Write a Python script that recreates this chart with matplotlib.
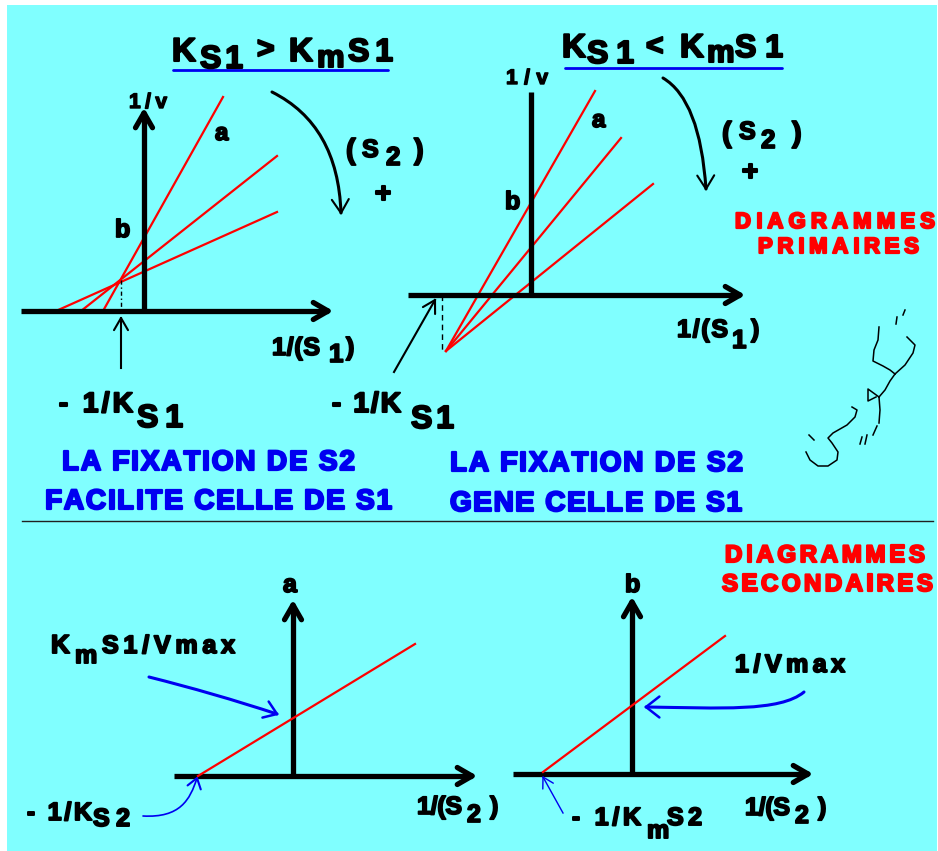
import numpy as np
import matplotlib
matplotlib.use('Agg')
import matplotlib.pyplot as plt
import matplotlib.patheffects as pe
from matplotlib.path import Path
from matplotlib.patches import PathPatch, Rectangle
from matplotlib.font_manager import FontProperties

CYAN = '#80ffff'
RED = '#ff0000'
BLUE = '#0000f0'
FONT = 'Liberation Sans'

# --- primary diagrams (pixel coords, y pointing down) ---
# Ks1 > KmS1 : the family crosses above the 1/(S1) axis
tl_axis_x, tl_axis_y = 144, 311
tl_foot_x = [103, 81, 56]        # where each line leaves the x axis
tl_top_x = [223, 277, 277]
tl_top_y = [97, 156, 212]
tl_cross = (121, 280)

# Ks1 < KmS1 : the family crosses below the 1/(S1) axis
tr_axis_x, tr_axis_y = 531, 295
tr_cross = (446, 351)
tr_top_x = [595, 621, 653]
tr_top_y = [91, 138, 184]

# --- secondary diagrams ---
sa_axis_x, sa_axis_y = 293, 776
sa_line_x = [198, 415]
sa_line_y = [776, 644]
sb_axis_x, sb_axis_y = 632, 774
sb_line_x = [543, 725]
sb_line_y = [772, 636]

# handwritten scribble, one list of points per stroke
scribble = [
    [(896, 324), (897, 317)],
    [(903, 315), (905, 310)],
    [(879, 327), (878, 340), (874, 350), (873, 361), (883, 366), (890, 370), (895, 374)],
    [(907, 337), (915, 345), (913, 353), (905, 365), (895, 374)],
    [(895, 374), (890, 381), (885, 390), (879, 397)],
    [(879, 397), (868, 389), (868, 401), (876, 397)],
    [(879, 397), (880, 410), (879, 423)],
    [(877, 426), (873, 435)],
    [(862, 437), (860, 444)],
    [(867, 435), (865, 444)],
    [(852, 407), (857, 410), (855, 417), (847, 425), (833, 433), (828, 438),
     (832, 443), (838, 452), (837, 460), (828, 466), (818, 466), (810, 460), (806, 452)],
    [(809, 435), (814, 440)],
]

fig = plt.figure(figsize=(9.38, 8.51), dpi=100)
ax = fig.add_axes([0, 0, 1, 1])
ax.set_xlim(0, 938)
ax.set_ylim(851, 0)
ax.axis('off')
ax.add_patch(Rectangle((7, 5), 930, 846, facecolor=CYAN, edgecolor='none', zorder=0))

renderer = fig.canvas.get_renderer()
PX = 0.72  # points per pixel at 100 dpi


def put(x, y, s, size, color='black', ha='left', heavy=1.0):
    ax.text(x, y, s, fontsize=size * PX, color=color, family=FONT,
            weight='bold', ha=ha, va='baseline',
            path_effects=[pe.withStroke(linewidth=heavy, foreground=color)])


def spread(x0, x1, y, s, size, color='black', heavy=1.0):
    # letters spaced out so the word spans x0..x1
    fp = FontProperties(family=FONT, weight='bold', size=size * PX)
    w = []
    for c in s:
        if c == ' ':
            w.append(0.28 * size)
        else:
            w.append(renderer.get_text_width_height_descent(c, fp, ismath=False)[0])
    gap = (x1 - x0 - sum(w)) / max(len(s) - 1, 1)
    x = x0
    for c, cw in zip(s, w):
        if c != ' ':
            put(x, y, c, size, color, heavy=heavy)
        x += cw + gap


def head(tx, ty, dx, dy, size, lw, color='black', ang=30):
    a = np.arctan2(dy, dx)
    for sgn in (1, -1):
        b = a + np.pi + sgn * np.radians(ang)
        ax.plot([tx, tx + size * np.cos(b)], [ty, ty + size * np.sin(b)],
                color=color, lw=lw, solid_capstyle='round', zorder=4)


def curve(pts, lw, color='black'):
    if len(pts) == 4:
        codes = [Path.MOVETO] + [Path.CURVE4] * 3
    else:
        codes = [Path.MOVETO] + [Path.CURVE3] * 2
    ax.add_patch(PathPatch(Path(pts, codes), fill=False, edgecolor=color, lw=lw,
                           capstyle='round', zorder=4))


def axis_line(x0, y0, x1, y1, arrow=True):
    ax.plot([x0, x1], [y0, y1], color='black', lw=3.8, solid_capstyle='butt', zorder=3)
    if arrow:
        head(x1, y1, x1 - x0, y1 - y0, 17, 3.8, ang=30)


# ---------- top left: Ks1 > KmS1 ----------
axis_line(21, tl_axis_y, 328, tl_axis_y)
axis_line(tl_axis_x, tl_axis_y, tl_axis_x, 113)
for fx, tx, ty in zip(tl_foot_x, tl_top_x, tl_top_y):
    ax.plot([fx, tx], [tl_axis_y, ty], color=RED, lw=1.6, zorder=2)
ax.plot([tl_cross[0]] * 2, [tl_cross[1], tl_axis_y], color='black', lw=1,
        ls=(0, (3, 2, 1, 2)), zorder=2)
ax.plot([121, 121], [368, 318], color='black', lw=1.5, zorder=4)
head(121, 318, 0, -1, 14, 1.5)

put(172, 61, 'K', 33, heavy=1.5)
spread(200, 243, 68, 'S1', 32, heavy=1.5)
put(257, 58, '>', 30, heavy=1.5)
put(289, 61, 'K', 33, heavy=1.5)
put(317, 67, 'm', 31, heavy=1.5)
spread(348, 393, 61, 'S1', 32, heavy=1.5)
ax.plot([173, 388], [70, 70], color=BLUE, lw=2, solid_capstyle='round')

spread(129, 167, 108, '1/v', 21)
put(215, 140, 'a', 24, heavy=1.3)
put(115, 237, 'b', 25, heavy=1.3)
curve([(272, 92), (338, 125), (341, 213)], 2.2)
head(341, 213, 0.05, 1, 16, 1.5, ang=32)
put(346, 159, '(', 29, heavy=1.3)
put(362, 157, 'S', 25, heavy=1.3)
put(386, 165, '2', 26, heavy=1.3)
put(414, 159, ')', 29, heavy=1.3)
put(383, 202, '+', 28, ha='center', heavy=1.5)
spread(272, 320, 355, '1/(S', 25, heavy=1.3)
put(329, 362, '1', 26, heavy=1.3)
put(346, 355, ')', 25, heavy=1.3)
spread(59, 133, 412, '- 1/K', 28, heavy=1.5)
spread(137, 183, 427, 'S1', 32, heavy=1.5)

# ---------- top right: Ks1 < KmS1 ----------
axis_line(408, tr_axis_y, 740, tr_axis_y)
axis_line(tr_axis_x, tr_axis_y, tr_axis_x, 92, arrow=False)
for tx, ty in zip(tr_top_x, tr_top_y):
    ax.plot([tr_cross[0], tx], [tr_cross[1], ty], color=RED, lw=1.6, zorder=2)
ax.plot([442, 442], [tr_axis_y, tr_cross[1]], color='black', lw=1,
        ls=(0, (4, 3)), zorder=2)
ax.plot([394, 435], [372, 300], color='black', lw=1.5, zorder=4)
head(435, 300, 41, -72, 14, 1.5)

put(562, 57, 'K', 33, heavy=1.5)
spread(587, 634, 63, 'S1', 32, heavy=1.5)
put(646, 55, '<', 30, heavy=1.5)
put(680, 57, 'K', 33, heavy=1.5)
put(707, 62, 'm', 31, heavy=1.5)
spread(735, 783, 57, 'S1', 32, heavy=1.5)
ax.plot([565, 782], [68, 68], color=BLUE, lw=2, solid_capstyle='round')

spread(506, 548, 84, '1/v', 21)
put(592, 127, 'a', 24, heavy=1.3)
put(505, 209, 'b', 25, heavy=1.3)
curve([(663, 78), (700, 100), (706, 189)], 2.2)
head(706, 189, 0.02, 1, 16, 1.5, ang=32)
put(722, 142, '(', 29, heavy=1.3)
put(739, 139, 'S', 25, heavy=1.3)
put(761, 148, '2', 26, heavy=1.3)
put(792, 142, ')', 29, heavy=1.3)
put(750, 180, '+', 28, ha='center', heavy=1.5)
spread(677, 728, 337, '1/(S', 25, heavy=1.3)
put(732, 348, '1', 26, heavy=1.3)
put(751, 337, ')', 25, heavy=1.3)
spread(332, 401, 412, '- 1/K', 28, heavy=1.5)
spread(411, 454, 428, 'S1', 32, heavy=1.5)

spread(735, 935, 228, 'DIAGRAMMES', 22, RED, heavy=1.6)
spread(758, 919, 253, 'PRIMAIRES', 22, RED, heavy=1.6)

for stroke in scribble:
    xs, ys = zip(*stroke)
    ax.plot(xs, ys, color='black', lw=1.1, zorder=2)

# captions
spread(62, 355, 470, 'LA FIXATION DE S2', 28, BLUE, heavy=1.6)
spread(45, 392, 509, 'FACILITE CELLE DE S1', 28, BLUE, heavy=1.6)
spread(450, 743, 471, 'LA FIXATION DE S2', 28, BLUE, heavy=1.6)
spread(450, 742, 511, 'GENE CELLE DE S1', 28, BLUE, heavy=1.6)

ax.plot([22, 933], [521, 521], color='#202020', lw=1)

# ---------- bottom left: a = f(1/S2) ----------
axis_line(174, sa_axis_y, 472, sa_axis_y)
axis_line(sa_axis_x, sa_axis_y, sa_axis_x, 605)
ax.plot(sa_line_x, sa_line_y, color=RED, lw=1.6, zorder=5)
put(283, 592, 'a', 25, heavy=1.3)
put(51, 653, 'K', 26, heavy=1.4)
put(75, 663, 'm', 25, heavy=1.4)
spread(102, 235, 653, 'S1/Vmax', 25, heavy=1.4)
curve([(149, 677), (213, 693), (277, 714)], 2.2, BLUE)
head(277, 714, 62, 24, 15, 1.8, BLUE, ang=35)
spread(27, 92, 820, '- 1/K', 25, heavy=1.4)
spread(93, 130, 826, 'S2', 25, heavy=1.4)
curve([(143, 816), (180, 818), (190, 800), (197, 778)], 1.2, BLUE)
head(197, 778, 0.3, -1, 12, 1.5, BLUE, ang=35)
spread(417, 462, 814, '1/(S', 25, heavy=1.3)
put(467, 822, '2', 25, heavy=1.3)
put(490, 814, ')', 25, heavy=1.3)

# ---------- bottom right: b = f(1/S2) ----------
axis_line(513, sb_axis_y, 808, sb_axis_y)
axis_line(sb_axis_x, sb_axis_y, sb_axis_x, 602)
ax.plot(sb_line_x, sb_line_y, color=RED, lw=1.6, zorder=5)
put(625, 592, 'b', 25, heavy=1.3)
spread(735, 845, 672, '1/Vmax', 25, heavy=1.4)
curve([(804, 692), (780, 712), (720, 708), (646, 707)], 2.2, BLUE)
head(646, 707, -1, 0, 17, 1.8, BLUE, ang=38)
spread(572, 641, 825, '- 1/K', 25, heavy=1.4)
put(647, 838, 'm', 25, heavy=1.4)
spread(667, 702, 825, 'S2', 25, heavy=1.4)
ax.plot([563, 543], [813, 777], color=BLUE, lw=1)
head(543, 777, -20, -36, 12, 1, BLUE, ang=30)
spread(745, 790, 815, '1/(S', 25, heavy=1.3)
put(795, 823, '2', 25, heavy=1.3)
put(818, 815, ')', 25, heavy=1.3)

spread(725, 925, 562, 'DIAGRAMMES', 24, RED, heavy=1.6)
spread(722, 933, 591, 'SECONDAIRES', 24, RED, heavy=1.6)

fig.savefig('out.png', dpi=100, facecolor='white')
